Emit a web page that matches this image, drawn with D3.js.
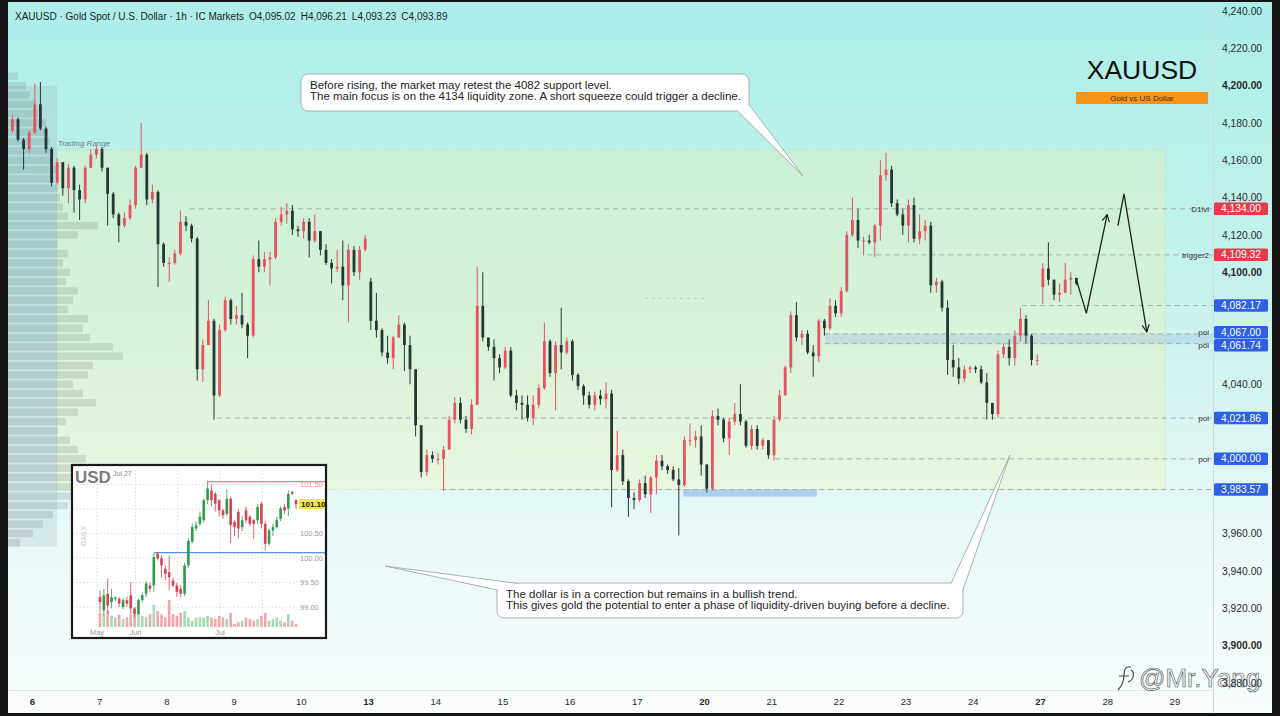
<!DOCTYPE html>
<html>
<head>
<meta charset="utf-8">
<script src="https://cdn.jsdelivr.net/npm/d3@7"></script>
<style>
  body { margin: 0; background: #141414; }
  svg { display: block; font-family: "Liberation Sans", Arial, sans-serif; }
</style>
</head>
<body>
<div id="chart"></div>
<script>
// --------------------------------------
//  Data
// --------------------------------------

// x axis (trading days, 1h candles, 12 drawn per day)
const dayLabels = ["6", "7", "8", "9", "10", "13", "14", "15", "16", "17", "20", "21", "22", "23", "24", "27", "28", "29"];
const weekStarts = ["6", "13", "20", "27"];
const candlesPerDay = 12;
const preDayCandles = 4;

// price axis
const priceTicks = [4240, 4220, 4200, 4180, 4160, 4140, 4120, 4100, 4080, 4060, 4040, 4020, 4000, 3980, 3960, 3940, 3920, 3900, 3880];

// gold candles
const firstOpen = 4176;
const gapIndex = [64, 184];
const gapOpen = [4095, 4092];
const closes = [
  4182, 4171, 4166, 4175, 4190, 4177, 4166, 4148, 4159, 4145,
  4156, 4144, 4139, 4156, 4163, 4166, 4156, 4142, 4131, 4125,
  4129, 4136, 4156, 4163, 4139, 4143, 4115, 4105, 4105, 4110,
  4127, 4125, 4118, 4048, 4061, 4074, 4034, 4069, 4085, 4075,
  4077, 4072, 4066, 4107, 4103, 4107, 4108, 4127, 4131, 4133,
  4123, 4122, 4127, 4117, 4122, 4112, 4105, 4102, 4103, 4093,
  4112, 4100, 4112, 4118, 4074, 4069, 4057, 4054, 4065, 4072,
  4061, 4048, 4018, 3993, 4002, 4000, 4000, 4005, 4021, 4030,
  4021, 4016, 4029, 4082, 4065, 4060, 4054, 4049, 4058, 4034,
  4030, 4029, 4022, 4029, 4038, 4063, 4046, 4061, 4057, 4063,
  4045, 4039, 4034, 4029, 4034, 4032, 4035, 3994, 4002, 3988,
  3979, 3978, 3987, 3981, 3990, 3999, 3996, 3994, 3989, 3986,
  4010, 4010, 4012, 3997, 3984, 4023, 4021, 4011, 4020, 4024,
  4020, 4007, 4016, 4007, 4010, 4002, 4021, 4034, 4049, 4077,
  4065, 4067, 4057, 4055, 4074, 4070, 4082, 4078, 4090, 4120,
  4128, 4117, 4117, 4116, 4125, 4152, 4155, 4137, 4131, 4125,
  4136, 4118, 4122, 4125, 4093, 4095, 4081, 4053, 4049, 4043,
  4048, 4049, 4048, 4041, 4030, 4024, 4056, 4060, 4054, 4066,
  4075, 4066, 4053, 4053, 4102, 4096, 4088, 4089, 4096, 4097,
  4094
];
const highs = [
  4184, 4183, 4172, 4176, 4201, 4202, 4178, 4167, 4161, 4159,
  4158, 4157, 4147, 4157, 4166, 4168, 4167, 4156, 4143, 4132,
  4132, 4139, 4157, 4180, 4164, 4147, 4144, 4116, 4108, 4112,
  4133, 4130, 4126, 4119, 4064, 4085, 4075, 4072, 4087, 4086,
  4082, 4089, 4073, 4109, 4117, 4111, 4111, 4129, 4135, 4137,
  4136, 4125, 4129, 4129, 4131, 4119, 4115, 4107, 4112, 4117,
  4115, 4114, 4114, 4120, 4097, 4089, 4070, 4066, 4066, 4077,
  4073, 4066, 4045, 4018, 4005, 4004, 4003, 4007, 4023, 4033,
  4033, 4023, 4032, 4103, 4100, 4065, 4064, 4056, 4060, 4060,
  4037, 4034, 4034, 4034, 4040, 4073, 4064, 4063, 4081, 4065,
  4064, 4046, 4040, 4036, 4036, 4037, 4041, 4037, 4015, 4005,
  3989, 3982, 3989, 3991, 3991, 4002, 4002, 3997, 3996, 3995,
  4012, 4019, 4015, 4018, 3997, 4026, 4027, 4022, 4022, 4030,
  4040, 4021, 4018, 4018, 4011, 4010, 4023, 4037, 4050, 4079,
  4084, 4069, 4069, 4061, 4075, 4075, 4086, 4085, 4092, 4122,
  4140, 4134, 4119, 4120, 4126, 4160, 4164, 4157, 4139, 4134,
  4139, 4140, 4131, 4128, 4127, 4097, 4096, 4085, 4061, 4054,
  4050, 4050, 4050, 4050, 4046, 4029, 4058, 4062, 4064, 4069,
  4081, 4077, 4067, 4056, 4105, 4116, 4096, 4094, 4105, 4100,
  4096
];
const lows = [
  4175, 4170, 4155, 4164, 4174, 4176, 4164, 4146, 4147, 4141,
  4137, 4132, 4128, 4137, 4156, 4161, 4154, 4125, 4129, 4116,
  4124, 4128, 4134, 4156, 4136, 4137, 4092, 4103, 4095, 4104,
  4109, 4122, 4116, 4042, 4041, 4061, 4021, 4033, 4068, 4072,
  4072, 4070, 4054, 4065, 4100, 4100, 4093, 4107, 4125, 4126,
  4120, 4119, 4118, 4108, 4116, 4109, 4104, 4094, 4100, 4085,
  4073, 4098, 4096, 4111, 4069, 4065, 4055, 4051, 4048, 4065,
  4047, 4040, 4012, 3990, 3991, 3998, 3997, 3983, 4005, 4019,
  4019, 4014, 4013, 4029, 4063, 4058, 4042, 4046, 4048, 4033,
  4026, 4021, 4020, 4018, 4027, 4037, 4044, 4026, 4048, 4056,
  4042, 4037, 4029, 4027, 4026, 4029, 4027, 3974, 3993, 3986,
  3969, 3973, 3977, 3979, 3971, 3981, 3994, 3992, 3988, 3959,
  3985, 4007, 4006, 3991, 3982, 3983, 4018, 4009, 4002, 4018,
  4018, 4006, 4005, 4005, 4005, 4000, 3999, 4020, 4034, 4046,
  4063, 4061, 4056, 4044, 4052, 4066, 4069, 4076, 4076, 4089,
  4119, 4113, 4109, 4115, 4108, 4117, 4149, 4135, 4130, 4120,
  4116, 4116, 4115, 4117, 4089, 4089, 4079, 4045, 4044, 4040,
  4041, 4046, 4046, 4040, 4021, 4021, 4022, 4054, 4050, 4050,
  4063, 4062, 4050, 4050, 4083, 4093, 4085, 4084, 4089, 4088,
  4093
];

// volume profile (left side)
const profilePrices = [4205, 4200, 4195, 4190, 4185, 4180, 4175, 4170, 4165, 4160, 4155, 4150, 4145, 4140, 4135, 4130, 4125, 4120, 4115, 4110, 4105, 4100, 4095, 4090, 4085, 4080, 4075, 4070, 4065, 4060, 4055, 4050, 4045, 4040, 4035, 4030, 4025, 4020, 4015, 4010, 4005, 4000, 3995, 3990, 3985, 3980, 3975, 3970, 3965, 3960, 3955];
const profileVolume = [10, 18, 22, 28, 30, 38, 40, 42, 46, 44, 48, 46, 50, 52, 55, 60, 90, 70, 50, 60, 55, 62, 58, 70, 65, 60, 80, 75, 82, 105, 115, 85, 80, 65, 75, 88, 70, 58, 50, 62, 70, 78, 85, 95, 100, 80, 60, 45, 35, 25, 12];

// horizontal levels
const levelPrices = [4134.00, 4109.32, 4082.17, 4067.00, 4061.74, 4021.86, 4000.00, 3983.57];
const levelNames = ["D1lvl", "trigger2", "", "poi", "poi", "poi", "poi", ""];
const levelStart = [2.35, 12.43, 14.73, 11.8, 11.8, 2.75, 11.06, 6.09];
const levelColors = ["#e23d4d", "#e23d4d", "#2d60e4", "#2d60e4", "#2d60e4", "#2d60e4", "#2d60e4", "#2d60e4"];

// zones
const rangeBox = [0.37, 16.86, 4165.5, 3983.5];      // start, end, top, bottom
const poiZone = [11.8, 17.6, 4067.00, 4061.74];
const liqZone = [9.69, 11.68, 3983.57, 3979.8];

// projected path
const pathAT = [15.55, 15.69, 16.0];
const pathAP = [4095, 4078, 4131];
const pathBT = [16.16, 16.25, 16.59];
const pathBP = [4125, 4142, 4068];

// DXY inset (daily)
const usdOpen = [99.20, 98.93, 99.27, 99.10, 99.16, 99.17, 99.00, 99.14, 99.24, 98.97, 98.86, 99.14, 99.27, 99.44, 99.44, 100.09, 99.99, 99.78, 99.71, 99.54, 99.44, 99.37, 99.27, 99.85, 100.33, 100.60, 100.70, 100.77, 101.18, 101.38, 101.31, 101.18, 100.97, 100.90, 101.21, 100.74, 100.94, 100.63, 100.97, 100.84, 100.77, 100.77, 101.11, 100.70, 100.29, 100.56, 100.63, 100.80, 101.04, 101.01, 101.35, 101.18];
const usdClose = [99.10, 99.24, 99.03, 99.20, 99.19, 99.07, 99.14, 99.07, 98.97, 98.86, 99.14, 99.24, 99.48, 99.37, 100.02, 99.99, 99.85, 99.68, 99.61, 99.44, 99.31, 99.27, 99.85, 100.35, 100.63, 100.67, 100.84, 101.18, 101.42, 101.18, 101.11, 100.97, 100.87, 101.21, 100.67, 100.63, 100.60, 100.77, 100.77, 100.70, 100.70, 101.04, 100.70, 100.29, 100.56, 100.63, 100.77, 101.01, 100.97, 101.31, 101.31, 101.10];
const usdHigh = [99.34, 99.37, 99.58, 99.37, 99.22, 99.20, 99.18, 99.22, 99.51, 99.00, 99.17, 99.30, 99.52, 99.50, 100.10, 100.12, 100.05, 99.85, 100.05, 99.60, 99.50, 99.45, 99.90, 100.40, 100.70, 100.75, 100.95, 101.22, 101.58, 101.50, 101.35, 101.20, 101.00, 101.40, 101.25, 100.78, 101.00, 100.85, 101.05, 100.88, 100.80, 101.10, 101.15, 100.75, 100.60, 100.70, 100.85, 101.05, 101.10, 101.38, 101.37, 101.20];
const usdLow = [98.90, 98.83, 98.86, 98.97, 99.12, 99.00, 98.96, 99.00, 98.86, 98.78, 98.84, 99.10, 99.20, 99.30, 99.31, 99.95, 99.60, 99.55, 99.34, 99.40, 99.20, 99.20, 99.22, 99.80, 100.30, 100.55, 100.65, 100.72, 101.10, 101.05, 100.95, 100.85, 100.80, 100.85, 100.30, 100.45, 100.40, 100.55, 100.70, 100.65, 100.39, 100.70, 100.60, 100.15, 100.25, 100.45, 100.60, 100.75, 100.90, 100.85, 101.28, 101.00];
const usdVolume = [45, 40, 50, 35, 30, 38, 25, 30, 40, 50, 45, 35, 30, 40, 70, 50, 40, 30, 85, 40, 35, 45, 50, 30, 20, 30, 30, 30, 35, 30, 25, 35, 30, 25, 45, 10, 15, 20, 30, 25, 20, 25, 35, 45, 20, 25, 30, 20, 15, 40, 20, 10];
const usdTicks = [101.5, 101.0, 100.5, 100.0, 99.5, 99.0];
const usdMonths = ["May", "Jun", "Jul"];
const usdMonthIdx = [0, 10, 32];
const usdGridIdx = [0, 10, 21, 32, 43];
const usdHighLine = 101.56;
const usdLowLine = 100.11;

// --------------------------------------
//  Canvas
// --------------------------------------

const width = 1280;
const height = 716;
const plot = {left: 8, top: 2, right: 1213, bottom: 690};

const svg = d3.select("#chart")
  .append("svg")
    .attr("width", width)
    .attr("height", height);

const defs = svg.append("defs");
const bg = defs.append("linearGradient")
  .attr("id", "bg").attr("x1", 0).attr("y1", 0).attr("x2", 0).attr("y2", 1);
bg.append("stop").attr("offset", "0%").attr("stop-color", "#adeee8");
bg.append("stop").attr("offset", "40%").attr("stop-color", "#c6f2ec");
bg.append("stop").attr("offset", "75%").attr("stop-color", "#e8f9f8");
bg.append("stop").attr("offset", "100%").attr("stop-color", "#f8fdfd");

const arrow = defs.append("marker")
  .attr("id", "arrow")
  .attr("viewBox", "0 0 10 10")
  .attr("refX", 9).attr("refY", 5)
  .attr("markerWidth", 9).attr("markerHeight", 9)
  .attr("markerUnits", "userSpaceOnUse")
  .attr("orient", "auto");
arrow.append("path")
  .attr("d", "M1,1 L9,5 L1,9")
  .attr("fill", "none")
  .attr("stroke", "#1e1e1e")
  .attr("stroke-width", 1.3);

svg.append("rect")
  .attr("x", 8).attr("y", 2)
  .attr("width", 1264).attr("height", 711)
  .attr("fill", "url(#bg)");

// --------------------------------------
//  Scales
// --------------------------------------

const x = d3.scaleLinear().domain([0, 17]).range([32, 32 + 17 * 67.2]);
const y = d3.scaleLinear().domain([3880, 4240]).range([682.8, 11]);
const fmt = d3.format(",.2f");

const candles = closes.map((c, k) => {
  const gi = gapIndex.indexOf(k);
  const o = k === 0 ? firstOpen : (gi >= 0 ? gapOpen[gi] : closes[k - 1]);
  return {t: (k - preDayCandles + 0.5) / candlesPerDay, o: o, c: c, h: highs[k], l: lows[k]};
});

// --------------------------------------
//  Zones & profile
// --------------------------------------

svg.append("rect")
  .attr("x", x(rangeBox[0])).attr("y", y(rangeBox[2]))
  .attr("width", x(rangeBox[1]) - x(rangeBox[0]))
  .attr("height", y(rangeBox[3]) - y(rangeBox[2]))
  .attr("fill", "rgba(255,242,150,0.24)")
  .attr("stroke", "#c9d9a6")
  .attr("stroke-dasharray", "1,2");

svg.append("text")
  .attr("x", x(rangeBox[0]) + 1).attr("y", y(rangeBox[2]) - 4)
  .attr("font-size", 8).attr("font-style", "italic")
  .attr("fill", "#6d7f80")
  .text("Trading Range");

// profile column
svg.append("rect")
  .attr("x", 8).attr("y", y(4200)).attr("width", 49)
  .attr("height", y(3953) - y(4200))
  .attr("fill", "rgba(140,165,175,0.2)");

const pw = d3.scaleLinear().domain([0, 115]).range([0, 115]);
svg.append("g")
  .selectAll("rect")
  .data(profilePrices)
  .join("rect")
    .attr("x", 8)
    .attr("y", d => y(d + 2))
    .attr("width", (d, i) => pw(profileVolume[i]))
    .attr("height", y(0) - y(4))
    .attr("fill", "rgba(105,120,125,0.2)");

// poi zones
svg.append("rect")
  .attr("x", x(poiZone[0])).attr("y", y(poiZone[2]))
  .attr("width", plot.right - x(poiZone[0]))
  .attr("height", y(poiZone[3]) - y(poiZone[2]))
  .attr("fill", "rgba(150,190,225,0.35)");

svg.append("rect")
  .attr("x", x(liqZone[0])).attr("y", y(liqZone[2]))
  .attr("width", x(liqZone[1]) - x(liqZone[0]))
  .attr("height", y(liqZone[3]) - y(liqZone[2]))
  .attr("fill", "rgba(135,180,240,0.6)");

// faint marker line
svg.append("line")
  .attr("x1", 645).attr("x2", 707)
  .attr("y1", y(4086)).attr("y2", y(4086))
  .attr("stroke", "rgba(120,140,140,0.35)")
  .attr("stroke-dasharray", "3,4");

// level lines
svg.append("g")
  .selectAll("line")
  .data(levelPrices)
  .join("line")
    .attr("x1", (d, i) => x(levelStart[i]))
    .attr("x2", plot.right)
    .attr("y1", d => y(d)).attr("y2", d => y(d))
    .attr("stroke", "#a3b3b3")
    .attr("stroke-width", 1)
    .attr("stroke-dasharray", "5,4");

// tag positions, pushed apart where they would overlap
const tagH = 12.5;
const tagY = levelPrices.map(d => y(d));
for (let i = 1; i < tagY.length; i++) {
  const overlap = tagY[i - 1] + tagH + 0.5 - tagY[i];
  if (overlap > 0) {
    tagY[i - 1] -= overlap / 2;
    tagY[i] += overlap / 2;
  }
}

svg.append("g")
  .selectAll("text")
  .data(levelPrices)
  .join("text")
    .attr("x", 1209)
    .attr("y", (d, i) => tagY[i] + 3)
    .attr("text-anchor", "end")
    .attr("font-size", 8)
    .attr("fill", "#333")
    .text((d, i) => levelNames[i]);

// --------------------------------------
//  Candles
// --------------------------------------

const upColor = "#e4535e";
const downColor = "#263636";

const cg = svg.append("g");
cg.selectAll("line")
  .data(candles)
  .join("line")
    .attr("x1", d => x(d.t)).attr("x2", d => x(d.t))
    .attr("y1", d => y(Math.max(d.h, d.o, d.c)))
    .attr("y2", d => y(Math.min(d.l, d.o, d.c)))
    .attr("stroke", d => d.c >= d.o ? upColor : downColor)
    .attr("stroke-width", 1);

cg.selectAll("rect")
  .data(candles)
  .join("rect")
    .attr("x", d => x(d.t) - 1.4)
    .attr("width", 2.8)
    .attr("y", d => y(Math.max(d.o, d.c)))
    .attr("height", d => Math.max(1, Math.abs(y(d.o) - y(d.c))))
    .attr("fill", d => d.c >= d.o ? upColor : downColor);

// projected path
const pline = d3.line().x(d => x(d[0])).y(d => y(d[1]));
svg.append("path")
  .attr("d", pline(pathAT.map((t, i) => [t, pathAP[i]])))
  .attr("fill", "none").attr("stroke", "#1e1e1e").attr("stroke-width", 1.3)
  .attr("marker-end", "url(#arrow)");
svg.append("path")
  .attr("d", pline(pathBT.map((t, i) => [t, pathBP[i]])))
  .attr("fill", "none").attr("stroke", "#1e1e1e").attr("stroke-width", 1.3)
  .attr("marker-end", "url(#arrow)");

// --------------------------------------
//  Axes
// --------------------------------------

svg.append("line")
  .attr("x1", plot.right + 0.5).attr("x2", plot.right + 0.5)
  .attr("y1", 2).attr("y2", 713)
  .attr("stroke", "#cfdcdc");

// tick labels hidden behind a price tag are dropped, as the platform does
const visibleTicks = priceTicks.filter(v => tagY.every(t => Math.abs(y(v) - t) > 10));

const yAxis = svg.append("g")
  .attr("transform", `translate(${plot.right + 3}, 0)`)
  .call(d3.axisRight(y).tickValues(visibleTicks).tickSize(0).tickPadding(6).tickFormat(fmt));
yAxis.select(".domain").remove();
yAxis.selectAll("text")
  .attr("font-size", 10.3)
  .attr("font-family", "Liberation Sans, Arial, sans-serif")
  .attr("fill", "#2a2a2a")
  .attr("font-weight", d => d % 100 === 0 ? "bold" : "normal");

// price tags
const tags = svg.append("g");
tags.selectAll("rect")
  .data(levelPrices)
  .join("rect")
    .attr("x", plot.right + 1)
    .attr("y", (d, i) => tagY[i] - tagH / 2)
    .attr("width", 54).attr("height", tagH)
    .attr("rx", 1.5)
    .attr("fill", (d, i) => levelColors[i]);
tags.selectAll("text")
  .data(levelPrices)
  .join("text")
    .attr("x", plot.right + 28)
    .attr("y", (d, i) => tagY[i] + 3.6)
    .attr("text-anchor", "middle")
    .attr("font-size", 10.3)
    .attr("fill", "#fff")
    .text(d => fmt(d));

// time axis
svg.append("rect")
  .attr("x", 8).attr("y", plot.bottom)
  .attr("width", plot.right - 8).attr("height", 23)
  .attr("fill", "#fbfdfd");
svg.append("line")
  .attr("x1", 8).attr("x2", plot.right)
  .attr("y1", plot.bottom + 0.5).attr("y2", plot.bottom + 0.5)
  .attr("stroke", "#dde6e6");

const xAxis = svg.append("g")
  .attr("transform", `translate(0, ${plot.bottom + 4})`)
  .call(d3.axisBottom(x).tickValues(dayLabels.map((d, i) => i)).tickSize(0).tickPadding(4)
    .tickFormat(i => dayLabels[i]));
xAxis.select(".domain").remove();
xAxis.selectAll("text")
  .attr("font-size", 9.5)
  .attr("font-family", "Liberation Sans, Arial, sans-serif")
  .attr("fill", "#2a2a2a")
  .attr("font-weight", i => weekStarts.includes(dayLabels[i]) ? "bold" : "normal");

// --------------------------------------
//  Header & title
// --------------------------------------

const header = svg.append("text")
  .attr("x", 15).attr("y", 20)
  .attr("font-size", 10)
  .attr("fill", "#1c1c1c");
header.append("tspan").text("XAUUSD · Gold Spot / U.S. Dollar · 1h · IC Markets");
header.append("tspan").attr("dx", 5).text("O4,095.02");
header.append("tspan").attr("dx", 5).text("H4,096.21");
header.append("tspan").attr("dx", 5).text("L4,093.23");
header.append("tspan").attr("dx", 5).text("C4,093.89");

svg.append("text")
  .attr("x", 1142).attr("y", 79)
  .attr("text-anchor", "middle")
  .attr("font-size", 26.5)
  .attr("fill", "#111")
  .text("XAUUSD");
svg.append("rect")
  .attr("x", 1076).attr("y", 92)
  .attr("width", 132).attr("height", 12)
  .attr("fill", "#f7951b");
svg.append("text")
  .attr("x", 1142).attr("y", 101)
  .attr("text-anchor", "middle")
  .attr("font-size", 8)
  .attr("fill", "#4a3000")
  .text("Gold vs US Dollar");

// --------------------------------------
//  Call-outs
// --------------------------------------

function bubble(bx, by, bw, bh, lines, tails) {
  const g = svg.append("g");
  g.append("rect")
    .attr("x", bx).attr("y", by).attr("width", bw).attr("height", bh)
    .attr("rx", 7)
    .attr("fill", "#fff")
    .attr("stroke", "#a9b1b1");
  tails.forEach(t => {
    g.append("path")
      .attr("d", `M${t[0]},${t[1]} L${t[2]},${t[3]} L${t[4]},${t[5]}`)
      .attr("fill", "#fff")
      .attr("stroke", "#a0a8a8")
      .attr("stroke-width", 0.9);
  });
  g.selectAll("text.l")
    .data(lines)
    .join("text")
      .attr("class", "l")
      .attr("x", bx + 9)
      .attr("y", (d, i) => by + 15 + i * 11)
      .attr("font-size", 11.5)
      .attr("fill", "#1e1e1e")
      .text(d => d);
}

bubble(301, 74, 448, 37,
  ["Before rising, the market may retest the 4082 support level.",
   "The main focus is on the 4134 liquidity zone. A short squeeze could trigger a decline."],
  [[737, 110.5, 803, 176, 748.5, 104]]);

bubble(497, 583, 466, 35,
  ["The dollar is in a correction but remains in a bullish trend.",
   "This gives gold the potential to enter a phase of liquidity-driven buying before a decline."],
  [[497.5, 590, 385, 566, 518, 583.5], [951, 583.5, 1010, 455, 962.5, 591]]);

// --------------------------------------
//  DXY inset
// --------------------------------------

const inset = svg.append("g");
inset.append("rect")
  .attr("x", 72).attr("y", 465)
  .attr("width", 254).attr("height", 173)
  .attr("fill", "#fff")
  .attr("stroke", "#1a1a1a")
  .attr("stroke-width", 2.2);

const ux = d3.scaleLinear().domain([0, 51]).range([100, 296]);
const uy = d3.scaleLinear().domain([99, 101.5]).range([607, 484.5]);
const uv = d3.scaleLinear().domain([0, 85]).range([0, 27]);

inset.append("g")
  .selectAll("line")
  .data(usdTicks)
  .join("line")
    .attr("x1", 76).attr("x2", 297)
    .attr("y1", d => uy(d)).attr("y2", d => uy(d))
    .attr("stroke", "#dcdcdc").attr("stroke-dasharray", "1.5,2");
inset.append("g")
  .selectAll("line")
  .data(usdGridIdx)
  .join("line")
    .attr("x1", d => ux(d) - 3).attr("x2", d => ux(d) - 3)
    .attr("y1", 470).attr("y2", 628)
    .attr("stroke", "#dcdcdc").attr("stroke-dasharray", "1.5,2");

inset.append("text")
  .attr("x", 86).attr("y", 546)
  .attr("transform", "rotate(-90, 86, 546)")
  .attr("font-size", 7).attr("font-weight", "bold")
  .attr("fill", "#d5d5d5")
  .text("DAILY");

inset.append("text")
  .attr("x", 75).attr("y", 483)
  .attr("font-size", 17).attr("font-weight", "bold")
  .attr("fill", "#7b7b7b")
  .text("USD");
inset.append("text")
  .attr("x", 113).attr("y", 476)
  .attr("font-size", 7)
  .attr("fill", "#8a8a8a")
  .text("Jul 27");

// volume
inset.append("g")
  .selectAll("rect")
  .data(usdVolume)
  .join("rect")
    .attr("x", (d, i) => ux(i) - 1.3)
    .attr("width", 2.6)
    .attr("y", d => 627 - uv(d))
    .attr("height", d => uv(d))
    .attr("fill", (d, i) => usdClose[i] >= usdOpen[i] ? "#a8d9b3" : "#f1a7ad");

// lines
inset.append("line")
  .attr("x1", ux(28)).attr("x2", 325)
  .attr("y1", uy(usdHighLine)).attr("y2", uy(usdHighLine))
  .attr("stroke", "#e8868e").attr("stroke-width", 1.2);
inset.append("line")
  .attr("x1", ux(14)).attr("x2", 325)
  .attr("y1", uy(usdLowLine)).attr("y2", uy(usdLowLine))
  .attr("stroke", "#5b8fe0").attr("stroke-width", 1.2);

// candles
const ug = inset.append("g");
ug.selectAll("line")
  .data(usdClose)
  .join("line")
    .attr("x1", (d, i) => ux(i)).attr("x2", (d, i) => ux(i))
    .attr("y1", (d, i) => uy(usdHigh[i]))
    .attr("y2", (d, i) => uy(usdLow[i]))
    .attr("stroke", (d, i) => d >= usdOpen[i] ? "#2f9a4c" : "#d6434f")
    .attr("stroke-width", 0.8);
ug.selectAll("rect")
  .data(usdClose)
  .join("rect")
    .attr("x", (d, i) => ux(i) - 1.3)
    .attr("width", 2.6)
    .attr("y", (d, i) => uy(Math.max(d, usdOpen[i])))
    .attr("height", (d, i) => Math.max(0.8, Math.abs(uy(d) - uy(usdOpen[i]))))
    .attr("fill", (d, i) => d >= usdOpen[i] ? "#2f9a4c" : "#d6434f");

// inset axis labels (101.00 sits under the last-price tag)
inset.append("g")
  .selectAll("text")
  .data(usdTicks.filter(d => d !== 101.0))
  .join("text")
    .attr("x", 300)
    .attr("y", d => uy(d) + 2.5)
    .attr("font-size", 7.5)
    .attr("fill", d => d === 101.5 ? "#d49aa0" : "#9a9a9a")
    .text(d => d.toFixed(2));

inset.append("rect")
  .attr("x", 299).attr("y", uy(101.10) - 5)
  .attr("width", 26).attr("height", 10)
  .attr("fill", "#f3e93c");
inset.append("text")
  .attr("x", 301).attr("y", uy(101.10) + 3)
  .attr("font-size", 8).attr("font-weight", "bold")
  .attr("fill", "#1a1a1a")
  .text("101.10");

inset.append("g")
  .selectAll("text")
  .data(usdMonths)
  .join("text")
    .attr("x", (d, i) => ux(usdMonthIdx[i]) - 3)
    .attr("y", 635)
    .attr("text-anchor", "middle")
    .attr("font-size", 7.5)
    .attr("fill", "#9a9a9a")
    .text(d => d);

// --------------------------------------
//  Watermark
// --------------------------------------

svg.append("path")
  .attr("d", "M1118,690 C1122,686 1124,680 1124,674 C1124,668 1127,666 1131,667 M1119,676 L1129,676 M1128,682 C1134,680 1135,672 1131,670")
  .attr("fill", "none")
  .attr("stroke", "#4a4a4a")
  .attr("stroke-width", 1.2);
svg.append("text")
  .attr("x", 1139).attr("y", 687)
  .attr("font-size", 26)
  .attr("fill", "none")
  .attr("stroke", "#4a4a4a")
  .attr("stroke-width", 0.6)
  .text("@Mr.Yang");
</script>
</body>
</html>
